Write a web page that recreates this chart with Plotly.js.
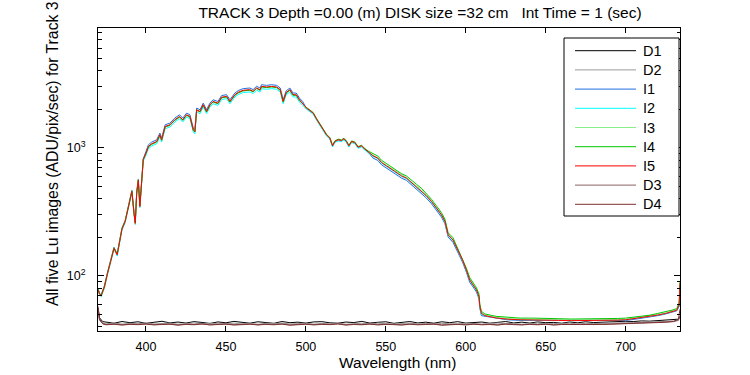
<!DOCTYPE html>
<html>
<head>
<meta charset="utf-8">
<script src="https://cdn.plot.ly/plotly-3.0.1.min.js"></script>
<style>html,body{margin:0;padding:0;background:#fff}#chart{width:750px;height:375px}</style>
</head>
<body>
<div id="chart"></div>
<script>
// Shared wavelength grid (nm) for the five Lu image spectra
const wavelength = [370,371,372,374,376,378,380,382,384,385,387,389,390.5,391.2,392.5,393.3,394.2,395.2,396.2,397.3,398.3,
400,401.5,403.5,406.7,408.7,409.8,412,415,418,421,423,425.4,427.5,429.6,430.6,431.7,433.8,435.8,437.9,440,442,445,447.3,450.4,452.5,455.6,457.7,460.8,465,467,469.2,471.3,472.3,475.4,478.6,481.7,484,485.8,487.7,490,492,494,496,498,
500.4,502.5,504.6,506.7,508.8,510.8,512.9,515,516.7,518.1,520.2,522.3,523.8,525.4,526.9,528.6,530.6,532.7,534.8,536.9,538.9,
542,545,547.3,550.4,553.6,556.7,559.8,562.9,566,569.2,572.3,575.4,578.6,581.7,584.8,587,589,592,595,598,600.4,602.5,604.6,606.7,608.3,608.8,609.8,
612,619,626,634,642,650,658,666,673,680,688,695,700,706,711,715,720,725,729,732,733.5,734];

const I1 = [80,73,71,84,107,136,167,149,207,237,271,345,412,465,315,262,451,567,355,541,822,
936,1054,1106,1154,1302,1190,1511,1558,1705,1809,1705,1864,1809,1424,1380,2039,1980,2231,1980,2231,2369,2297,2554,2596,2369,2673,2791,2894,2925,2843,3018,2925,3105,3069,3105,3069,2925,2369,2781,2925,2673,2673,2441,2297,
2020,1935,1846,1658,1498,1369,1251,1178,1026,1109,1143,1130,1164,1109,1026,1109,1089,1002,1026,967,927,
831,797,737,694,655,615,580,557,515,479,445,405,366,324,288,255,201,183,153,128,107,89,82,75,66,56,49,
48.5,46.5,45.5,45,45,44.6,44.6,44.4,44.4,44.6,44.6,44.7,45,46,47,47.5,49,50.5,52,53.5,58,80];

const I2 = [76,71,69,80,103,130,161,143,199,227,261,331,396,447,303,252,433,545,341,519,790,
873,982,1031,1075,1213,1109,1408,1452,1589,1686,1589,1738,1686,1328,1286,1901,1845,2079,1845,2079,2208,2141,2381,2419,2208,2491,2602,2698,2726,2650,2813,2726,2894,2861,2894,2861,2726,2208,2592,2726,2491,2491,2275,2141,
1999,1916,1828,1642,1483,1355,1239,1166,1015,1098,1132,1118,1152,1098,1015,1098,1078,992,1015,957,917,
857,822,760,716,675,635,598,574,531,494,459,418,377,335,297,263,207,189,157,132,110,92,84,77,68,57,50,
49,47,46,45.5,45.5,45,45,44.8,44.8,45,45,45.2,45.5,46.5,47.5,48,49.5,51,52.5,54,60,86];

const I3 = [78,72,70,82,105,133,164,146,203,232,266,338,404,456,309,257,442,556,348,530,806,
900,1013,1063,1109,1251,1143,1452,1498,1638,1738,1638,1792,1738,1369,1327,1960,1903,2144,1903,2144,2277,2208,2455,2495,2277,2569,2683,2782,2812,2732,2901,2812,2985,2950,2985,2950,2812,2277,2673,2812,2569,2569,2346,2208,
2040,1955,1865,1675,1513,1383,1264,1190,1036,1120,1155,1141,1176,1120,1036,1120,1100,1012,1036,977,936,
875,838,776,730,689,647,610,586,541,504,469,426,385,341,303,269,211,193,161,134,112,94,86,79,70,59,52,
49.5,47.5,46.5,46,46,45.5,45.5,45.2,45.2,45.5,45.5,45.7,46,47,48,48.5,50,51.5,53,54.5,61,84];

const I4 = [79,73,71,83,106,134,166,148,205,234,269,341,408,461,312,260,446,562,351,535,814,
900,1013,1063,1109,1251,1143,1452,1498,1638,1738,1638,1792,1738,1369,1327,1960,1903,2144,1903,2144,2277,2208,2455,2495,2277,2569,2683,2782,2812,2732,2901,2812,2985,2950,2985,2950,2812,2277,2673,2812,2569,2569,2346,2208,
2060,1975,1884,1692,1528,1397,1277,1202,1046,1131,1167,1152,1188,1131,1046,1131,1111,1022,1046,987,945,
901,863,799,752,709,667,628,603,557,519,483,439,396,352,312,277,217,199,165,138,115,97,88,81,72,60,53,
50.5,48.4,47.4,46.9,46.9,46.4,46.4,46.1,46.1,46.4,46.4,46.6,46.9,47.9,48.9,49.4,51,52.5,54.1,55.6,62,90];

const I5 = [78,72,70,82,105,133,164,146,203,232,266,338,404,456,309,257,442,556,348,530,806,
909,1023,1074,1120,1264,1155,1467,1513,1655,1756,1655,1810,1756,1383,1340,1980,1922,2166,1922,2166,2300,2230,2480,2520,2300,2595,2710,2810,2840,2760,2930,2840,3015,2980,3015,2980,2840,2300,2700,2840,2595,2595,2370,2230,
2040,1955,1865,1675,1513,1383,1264,1190,1036,1120,1155,1141,1176,1120,1036,1120,1100,1012,1036,977,936,
866,830,768,723,682,641,604,580,536,499,464,422,381,338,300,266,209,191,159,133,111,93,85,78,69,58,51,
49,47,46,45.5,45.5,45,45,44.8,44.8,45,45,45.2,45.5,46.5,47.5,48,49.5,51,52.5,54,60,88];

// Wavelength grid (nm) for the dark images
const darkWavelength = [370,371,373,375,380,385,390,395,400,405,410,415,420,425,430,435,440,445,450,455,460,465,470,475,480,485,490,495,500,505,510,515,520,525,530,535,540,545,550,555,560,565,570,575,580,585,590,595,600,605,610,615,620,625,630,635,640,645,650,655,660,665,670,675,680,685,690,695,700,705,710,715,720,725,730,733,734];

const D1 = [56,47,44,43.6,42.8,44.1,43.2,43.9,42.7,43.5,44.3,43.0,43.7,42.9,44.0,43.4,42.6,43.8,43.1,44.2,43.3,42.8,43.9,43.5,42.7,44.1,43.2,43.6,42.9,43.8,44.0,43.1,42.8,43.7,43.3,44.2,42.9,43.5,43.9,42.7,43.4,44.1,43.0,43.6,42.8,43.9,43.2,44.0,42.9,43.5,43.7,42.8,43.3,44.1,43.0,43.6,42.9,43.8,43.2,43.4,42.8,43.7,43.1,43.9,43.3,43.6,44.0,43.8,44.3,44.1,44.6,44.4,44.9,45.1,45.4,46,48];
const D2 = [52,45,43,42.3,42.9,42.1,42.7,42.4,43.0,42.2,42.6,42.8,42.0,42.5,42.9,42.2,42.7,42.4,42.1,42.8,42.3,42.6,42.0,42.7,42.4,42.9,42.2,42.5,42.8,42.1,42.6,42.3,42.9,42.0,42.5,42.7,42.2,42.8,42.4,42.1,42.6,42.9,42.3,42.5,42.0,42.7,42.4,42.2,42.8,42.5,42.1,42.6,42.9,42.3,42.7,42.0,42.5,42.8,42.2,42.6,42.4,42.9,42.1,42.7,42.5,42.8,43.0,42.9,43.2,43.1,43.4,43.6,43.8,44.1,44.5,45.5,47];
const D3 = [54,45,42.5,41.8,42.3,41.6,42.1,41.9,42.4,41.7,42.0,42.2,41.5,42.1,41.8,42.4,41.6,42.0,42.3,41.7,41.9,42.2,41.6,42.1,41.8,42.3,41.5,42.0,42.2,41.7,42.1,41.9,42.4,41.6,42.0,41.8,42.3,41.7,42.1,41.9,41.6,42.2,41.8,42.0,42.3,41.5,41.9,42.1,41.7,42.2,41.8,42.0,41.6,42.3,41.9,41.7,42.1,41.8,42.2,41.6,42.0,41.9,42.3,41.7,42.1,42.0,42.2,42.4,42.3,42.6,42.8,43.0,43.3,43.6,44.0,45,49];
const D4 = [58,46,42.3,41.6,42.0,41.4,41.9,41.7,42.1,41.5,41.8,42.0,41.3,41.9,41.6,42.2,41.5,41.8,42.1,41.4,41.7,42.0,41.5,41.9,41.6,42.1,41.3,41.8,42.0,41.5,41.9,41.7,42.2,41.4,41.8,41.6,42.1,41.5,41.9,41.7,41.4,42.0,41.6,41.8,42.1,41.3,41.7,41.9,41.5,42.0,41.6,41.8,41.4,42.1,41.7,41.5,41.9,41.6,42.0,41.4,41.8,41.7,42.1,41.5,41.9,41.8,42.0,42.2,42.1,42.4,42.6,42.8,43.1,43.5,44.2,46,55];

const seriesNames = ['D1','D2','I1','I2','I3','I4','I5','D3','D4'];
const seriesColors = ['#000000','#999999','#1f6fe0','#00ffff','#88ee88','#00c800','#ff0000','#8c6060','#803030'];
const xTicks = [400,450,500,550,600,650,700];
const yTicks = [100,1000];
const yTickText = ['10<sup>2</sup>','10<sup>3</sup>'];
const yMinorTicks = [40,50,60,70,80,90,200,300,400,500,600,700,800,900,2000,3000,4000,5000,6000,7000,8000];

const seriesData = {
  D1:[darkWavelength,D1], D2:[darkWavelength,D2],
  I1:[wavelength,I1], I2:[wavelength,I2], I3:[wavelength,I3], I4:[wavelength,I4], I5:[wavelength,I5],
  D3:[darkWavelength,D3], D4:[darkWavelength,D4]
};

const font = 'Liberation Sans, Arial, sans-serif';
const traces = seriesNames.map((n,i)=>({
  type:'scatter', mode:'lines', name:n,
  x: seriesData[n][0], y: seriesData[n][1],
  line:{color:seriesColors[i], width:1}
}));

// plot area in pixels: left 98, right 680, top 28, bottom 331
const PL=98, PR=680, PT=28, PB=331;
const px2x = p => (p-PL)/(PR-PL);
const px2y = p => (PB-p)/(PB-PT);

// boxed legend, drawn like the original figure's legend
const shapes = [{type:'rect', xref:'paper', yref:'paper', x0:px2x(564), x1:px2x(679), y0:px2y(216), y1:px2y(38),
  line:{color:'#000', width:1}, fillcolor:'#fff', layer:'above'}];
const annotations = [];
seriesNames.forEach((n,i)=>{
  const yy = px2y(50.7 + i*19.2);
  shapes.push({type:'line', xref:'paper', yref:'paper', x0:px2x(575), x1:px2x(636), y0:yy, y1:yy,
    line:{color:seriesColors[i], width:1}, layer:'above'});
  annotations.push({text:n, xref:'paper', yref:'paper', x:px2x(641), y:yy, xanchor:'left', yanchor:'middle',
    showarrow:false, font:{family:font, size:14.5, color:'#000'}});
});
annotations.push({text:'Wavelength (nm)', xref:'paper', yref:'paper', x:px2x(397), y:px2y(362),
  xanchor:'center', yanchor:'middle', showarrow:false, font:{family:font, size:15.5, color:'#000'}});
annotations.push({text:'All five Lu images (ADU/pix/sec) for Track 3', xref:'paper', yref:'paper', x:px2x(52), y:px2y(154),
  xanchor:'center', yanchor:'middle', textangle:-90, showarrow:false, font:{family:font, size:15.8, color:'#000'}});

const layout = {
  width:750, height:375,
  margin:{l:PL, r:750-PR, t:PT, b:375-PB, pad:0},
  paper_bgcolor:'#fff', plot_bgcolor:'#fff',
  font:{family:font, size:12, color:'#000'},
  showlegend:false,
  title:{text:'TRACK 3 Depth =0.00 (m) DISK size =32 cm   Int Time = 1 (sec)',
    font:{family:font, size:15.5, color:'#000'},
    xref:'container', yref:'container', x:420/750, xanchor:'center', y:1-12.5/375, yanchor:'middle'},
  xaxis:{range:[370,734], tickmode:'array', tickvals:xTicks, ticks:'inside', ticklen:5, tickcolor:'#000',
    showline:true, linecolor:'#000', linewidth:1, mirror:'ticks', showgrid:false, zeroline:false,
    ticklabelstandoff:4, tickfont:{family:font, size:12.5, color:'#000'}},
  yaxis:{type:'log', range:[Math.log10(37.2), Math.log10(8600)], tickmode:'array', tickvals:yTicks, ticktext:yTickText,
    ticks:'inside', ticklen:6, tickcolor:'#000',
    minor:{tickmode:'array', tickvals:yMinorTicks, ticks:'inside', ticklen:3.5, tickcolor:'#000', showgrid:false},
    showline:true, linecolor:'#000', linewidth:1, mirror:'ticks', showgrid:false, zeroline:false,
    ticklabelstandoff:9, tickfont:{family:font, size:12.5, color:'#000'}},
  shapes: shapes,
  annotations: annotations
};

Plotly.newPlot('chart', traces, layout, {displayModeBar:false, staticPlot:true});
</script>
</body>
</html>
